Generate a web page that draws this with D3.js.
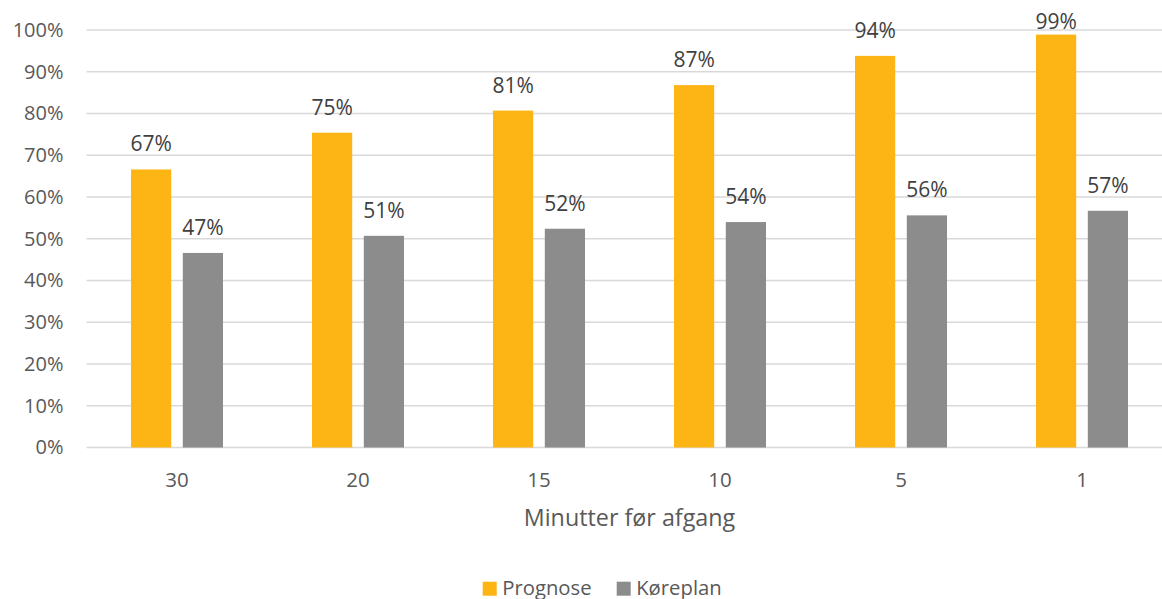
<!DOCTYPE html>
<html>
<head>
<meta charset="utf-8">
<script src="https://cdn.jsdelivr.net/npm/d3@7"></script>
<style>
  html, body { margin: 0; padding: 0; background: #fff; }
  svg { display: block; font-family: "Open Sans", sans-serif; }
</style>
</head>
<body>
<svg id="chart" width="1162" height="599"></svg>
<script>
const categories = ["30", "20", "15", "10", "5", "1"];
const seriesNames = ["Prognose", "Køreplan"];
const prognose = [66.6, 75.4, 80.7, 86.8, 93.8, 98.9];
const koreplan = [46.6, 50.7, 52.4, 54.0, 55.6, 56.7];
const yTicks = [0, 10, 20, 30, 40, 50, 60, 70, 80, 90, 100];
const xTitle = "Minutter før afgang";
const colors = ["#FDB515", "#8C8C8C"];

const svg = d3.select("#chart");
const plot = { left: 86.5, right: 1172.5, top: 30, bottom: 447.5 };

const x = d3.scaleBand().domain(categories).range([plot.left, plot.right]).padding(0);
const xs = d3.scaleBand().domain(seriesNames).range([44.5, 136.5]).paddingInner(0.224).paddingOuter(0);
const y = d3.scaleLinear().domain([0, 100]).range([plot.bottom, plot.top]);

// gridlines
svg.append("g").selectAll("line").data(yTicks).join("line")
  .attr("x1", plot.left).attr("x2", plot.right)
  .attr("y1", d => y(d)).attr("y2", d => y(d))
  .attr("stroke", "#D9D9D9").attr("stroke-width", 1.3);

// y axis labels
const yAxis = d3.axisLeft(y).tickValues(yTicks).tickFormat(d => d + "%").tickSize(0).tickPadding(0);
const gy = svg.append("g").attr("transform", `translate(${plot.left - 23},0)`).call(yAxis);
gy.select(".domain").remove();
gy.selectAll("text").attr("font-size", 20).attr("fill", "#595959").attr("font-family", "Open Sans, sans-serif");

// x axis labels
const xAxis = d3.axisBottom(x).tickSize(0).tickPadding(0);
const gx = svg.append("g").attr("transform", `translate(0,${plot.bottom + 24.5})`).call(xAxis);
gx.select(".domain").remove();
gx.selectAll("text").attr("font-size", 20.5).attr("fill", "#595959").attr("font-family", "Open Sans, sans-serif");

// bars
const data = categories.map((c, i) => ({ cat: c, vals: [
  { s: seriesNames[0], v: prognose[i], c: colors[0] },
  { s: seriesNames[1], v: koreplan[i], c: colors[1] }
]}));

const groups = svg.append("g").selectAll("g").data(data).join("g")
  .attr("transform", d => `translate(${x(d.cat)},0)`);

groups.selectAll("rect").data(d => d.vals).join("rect")
  .attr("x", d => xs(d.s))
  .attr("width", xs.bandwidth())
  .attr("y", d => y(d.v))
  .attr("height", d => y(0) - y(d.v))
  .attr("fill", d => d.c);

groups.selectAll("text").data(d => d.vals).join("text")
  .attr("x", d => xs(d.s) + xs.bandwidth() / 2)
  .attr("y", d => Math.max(y(d.v) - 18, plot.top - 1.5))
  .attr("text-anchor", "middle")
  .attr("font-size", 21)
  .attr("fill", "#404040")
  .text(d => Math.round(d.v) + "%");

// x axis title
svg.append("text")
  .attr("x", (plot.left + plot.right) / 2)
  .attr("y", 526)
  .attr("text-anchor", "middle")
  .attr("font-size", 23.3)
  .attr("fill", "#595959")
  .text(xTitle);

// legend
const legendItems = [
  { name: seriesNames[0], color: colors[0], x: 482.7 },
  { name: seriesNames[1], color: colors[1], x: 616.7 }
];
const lg = svg.append("g").selectAll("g").data(legendItems).join("g")
  .attr("transform", d => `translate(${d.x},581.7)`);
lg.append("rect").attr("width", 14).attr("height", 14).attr("fill", d => d.color);
lg.append("text").attr("x", 19.5).attr("y", 13.5).attr("font-size", 20.3).attr("fill", "#595959").text(d => d.name);
</script>
</body>
</html>
